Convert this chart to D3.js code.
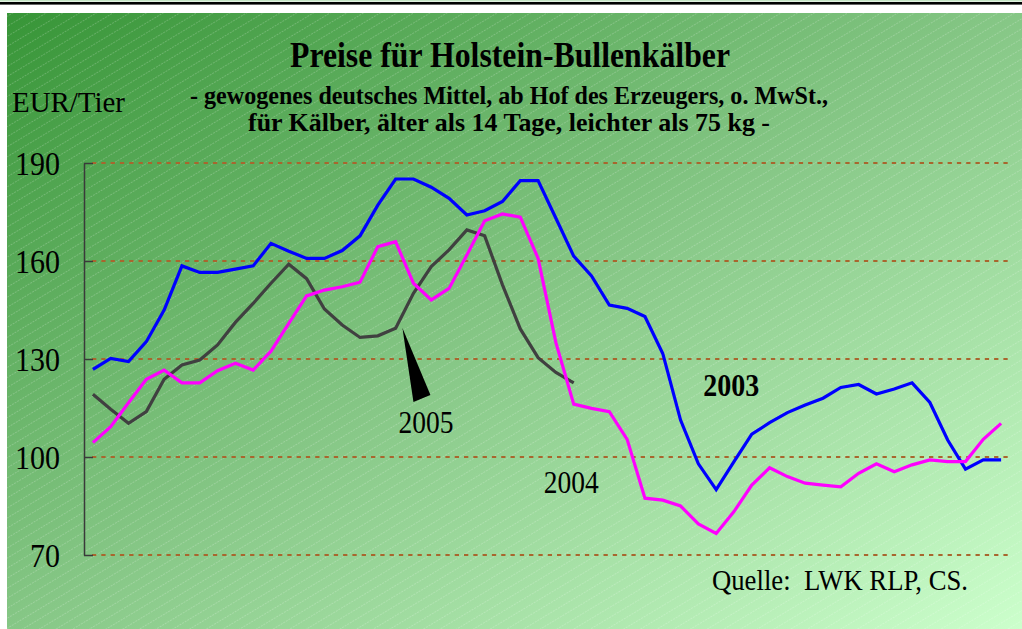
<!DOCTYPE html>
<html>
<head>
<meta charset="utf-8">
<script src="https://cdn.jsdelivr.net/npm/d3@7"></script>
<style>
  html, body { margin: 0; padding: 0; background: #ffffff; }
  svg { display: block; }
  text { font-family: "Liberation Serif", "Times New Roman", serif; white-space: pre; }
</style>
</head>
<body>
<svg id="chart" width="1022" height="629"></svg>
<script>
// ---------- data ----------
const weeks = d3.range(1, 53);
const yTicks = [70, 100, 130, 160, 190];

const series2003 = [126.8, 130.2, 129.2, 135.3, 145.0, 158.5, 156.5, 156.5, 157.5, 158.5,
  165.4, 163.0, 160.8, 160.8, 163.2, 167.7, 177.1, 185.1, 185.1, 182.6,
  179.2, 174.1, 175.4, 178.2, 184.6, 184.6, 173.1, 161.5, 155.4, 146.5,
  145.5, 143.0, 131.7, 111.3, 97.9, 90.0, 98.6, 107.0, 110.5, 113.6,
  115.9, 118.0, 121.3, 122.2, 119.3, 120.8, 122.7, 116.7, 105.2, 96.3,
  99.1, 99.1];

const series2004 = [104.4, 109.3, 116.6, 123.8, 126.6, 122.7, 122.7, 126.4, 128.7, 126.6,
  132.4, 140.9, 149.3, 151.1, 152.1, 153.5, 164.4, 165.9, 153.2, 148.1,
  151.6, 161.8, 172.3, 174.4, 173.4, 160.8, 135.0, 116.2, 114.9, 113.9,
  105.4, 87.4, 86.8, 85.0, 79.5, 76.6, 83.3, 91.4, 96.7, 94.0,
  92.0, 91.4, 90.9, 95.0, 97.9, 95.5, 97.6, 99.1, 98.6, 98.6,
  105.4, 110.3];

const series2005 = [119.2, 114.6, 110.3, 113.9, 123.8, 128.2, 129.7, 134.3, 141.2, 147.0,
  153.2, 159.0, 154.6, 145.3, 140.4, 136.6, 137.1, 139.4, 150.1, 158.3,
  163.4, 169.5, 167.7, 152.7, 139.2, 130.4, 125.9, 122.7];

const titleText = "Preise für Holstein-Bullenkälber";
const subtitle1 = "- gewogenes deutsches Mittel, ab Hof des Erzeugers, o. MwSt.,";
const subtitle2 = "für Kälber, älter als 14 Tage, leichter als 75 kg -";
const unitText = "EUR/Tier";
const sourceText = "Quelle:  LWK RLP, CS.";

// ---------- setup ----------
const W = 1022, H = 629;
const svg = d3.select("#chart");
const defs = svg.append("defs");

const grad = defs.append("linearGradient")
  .attr("id", "bg").attr("x1", 0).attr("y1", 0).attr("x2", 1).attr("y2", 1);
grad.append("stop").attr("offset", 0).attr("stop-color", "#379537");
grad.append("stop").attr("offset", 0.5).attr("stop-color", "#86c786");
grad.append("stop").attr("offset", 1).attr("stop-color", "#ccffcc");

const pat = defs.append("pattern")
  .attr("id", "stripes").attr("patternUnits", "userSpaceOnUse")
  .attr("width", 12).attr("height", 8.6)
  .attr("patternTransform", "rotate(-31)");
pat.append("line").attr("x1", 0).attr("y1", 0.5).attr("x2", 12).attr("y2", 0.5)
  .attr("stroke", "rgba(255,255,255,0.25)").attr("stroke-width", 0.8)
  .attr("stroke-dasharray", "2,1");

// frame
svg.append("rect").attr("x", 0).attr("y", 0).attr("width", W).attr("height", H).attr("fill", "#ffffff");
svg.append("rect").attr("x", 0).attr("y", 0).attr("width", W).attr("height", 1.5).attr("fill", "#c4e4c4");
svg.append("rect").attr("x", 0).attr("y", 2).attr("width", W).attr("height", 2.6).attr("fill", "#000000");
svg.append("rect").attr("x", 7).attr("y", 13).attr("width", W - 7).attr("height", H - 13).attr("fill", "url(#bg)");
svg.append("rect").attr("x", 7).attr("y", 13).attr("width", W - 7).attr("height", H - 13).attr("fill", "url(#stripes)");

// scales
const x = d3.scalePoint().domain(weeks).range([84, 1010]).padding(0.5);
const y = d3.scaleLinear().domain([70, 190]).range([555, 163]);

// gridlines
svg.append("g").selectAll("line").data(yTicks).join("line")
  .attr("x1", 92).attr("x2", 1009)
  .attr("y1", d => y(d)).attr("y2", d => y(d))
  .attr("stroke", "#a8662e").attr("stroke-width", 2)
  .attr("stroke-dasharray", "4.3,5");

// y axis
const yAxis = d3.axisLeft(y).tickValues(yTicks).tickSizeInner(-9).tickSizeOuter(0).tickPadding(24);
const gy = svg.append("g").attr("transform", "translate(84,0)").call(yAxis);
gy.select(".domain").attr("stroke", "#3a3a3a").attr("stroke-width", 1.5);
gy.selectAll(".tick line").attr("stroke", "#3a3a3a").attr("stroke-width", 1.5);
gy.selectAll(".tick text")
  .attr("font-family", "Liberation Serif, serif")
  .attr("font-size", 33).attr("fill", "#000").attr("dy", "0.34em")
  .attr("textLength", d => String(d).length * 15)
  .attr("lengthAdjust", "spacingAndGlyphs");

// lines
const line = d3.line().x((d, i) => x(weeks[i])).y(d => y(d));
const plot = svg.append("g");
plot.append("path").datum(series2003).attr("d", line)
  .attr("fill", "none").attr("stroke", "#0000ff").attr("stroke-width", 3.2);
plot.append("path").datum(series2005).attr("d", line)
  .attr("fill", "none").attr("stroke", "#404040").attr("stroke-width", 3.2);
plot.append("path").datum(series2004).attr("d", line)
  .attr("fill", "none").attr("stroke", "#ff00ff").attr("stroke-width", 3.2);

// titles
function txt(t, px, py, size, weight, anchor, len) {
  const el = svg.append("text").attr("x", px).attr("y", py)
    .attr("font-size", size).attr("font-weight", weight)
    .attr("text-anchor", anchor).attr("fill", "#000")
    .attr("xml:space", "preserve").text(t);
  if (len) el.attr("textLength", len).attr("lengthAdjust", "spacingAndGlyphs");
  return el;
}
txt(titleText, 290, 67, 35, "bold", "start", 440);
txt(subtitle1, 190, 104, 25, "bold", "start", 638);
txt(subtitle2, 248, 131, 25, "bold", "start", 522);
txt(unitText, 12, 112, 29, "normal", "start", 113);
txt(sourceText, 712, 590, 29, "normal", "start", 256);

// series annotations (anchored via scales)
const xa = x(19);
svg.append("path")
  .attr("d", `M${xa - 11},${y(139.5)} L${xa},${y(116.8)} L${xa + 17},${y(119.0)} Z`)
  .attr("fill", "#000");
txt("2005", xa - 15, y(100) - 24, 32, "normal", "start", 55);
txt("2004", x(28) - 30, y(89), 32, "normal", "start", 55);
txt("2003", x(36) - 13, y(121.1) + 8, 32, "bold", "start", 56);
</script>
</body>
</html>
